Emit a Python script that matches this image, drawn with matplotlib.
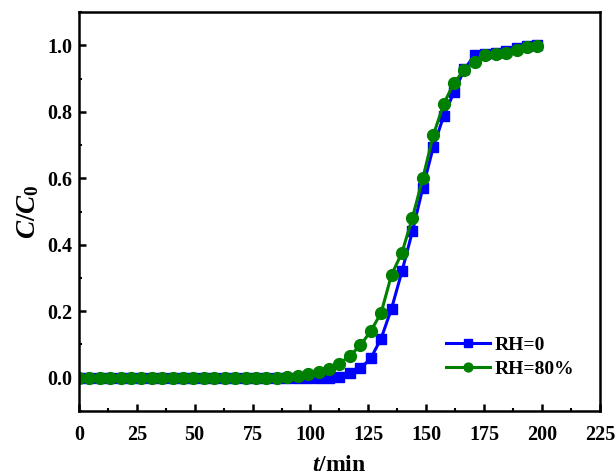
import matplotlib
matplotlib.use("Agg")
import matplotlib.pyplot as plt
from matplotlib.ticker import MultipleLocator

t_min = [0, 4.5, 9, 13.5, 18, 22.5, 27, 31.5, 36, 40.5, 45, 49.5, 54, 58.5, 63,
         67.5, 72, 76.5, 81, 85.5, 90, 94.5, 99, 103.5, 108, 112.5, 117, 121.5,
         126, 130.5, 135, 139.5, 144, 148.5, 153, 157.5, 162, 166.5, 171, 175.5,
         180, 184.5, 189, 193.5, 198]

rh0 = [0, 0, 0, 0, 0, 0, 0, 0, 0, 0, 0, 0, 0, 0, 0,
       0, 0, 0, 0, 0, 0, 0, 0, 0, 0.0, 0.003, 0.015, 0.028,
       0.058, 0.118, 0.208, 0.320, 0.440, 0.571, 0.693, 0.787, 0.860, 0.928, 0.972, 0.974,
       0.976, 0.982, 0.992, 0.997, 1.0]

rh80 = [0, 0, 0, 0, 0, 0, 0, 0, 0, 0, 0, 0, 0, 0, 0,
        0, 0, 0, 0, 0, 0.003, 0.006, 0.012, 0.016, 0.027, 0.042, 0.066, 0.097,
        0.140, 0.195, 0.310, 0.376, 0.481, 0.600, 0.729, 0.823, 0.888, 0.926, 0.951, 0.970,
        0.973, 0.976, 0.986, 0.996, 0.998]

labels = ["RH=0", "RH=80%"]

plt.rcParams['font.family'] = ['Liberation Serif', 'DejaVu Serif']
plt.rcParams['font.weight'] = 'bold'
plt.rcParams['mathtext.fontset'] = 'custom'
plt.rcParams['mathtext.rm'] = 'Liberation Serif:bold'
plt.rcParams['mathtext.bf'] = 'Liberation Serif:bold'
plt.rcParams['mathtext.it'] = 'Liberation Serif:italic:bold'

fig = plt.figure(figsize=(6.16, 4.76), dpi=100)
ax = fig.add_axes([0.128, 0.1366, 0.846, 0.838])

ax.plot(t_min, rh0, color='#0000FF', marker='s', markersize=7.5, linewidth=2.2,
        label=labels[0])
ax.plot(t_min, rh80, color='#008000', marker='o', markersize=8.5, linewidth=2.2,
        label=labels[1])

ax.set_xlim(0, 225)
ax.set_ylim(-0.1, 1.1)
ax.xaxis.set_major_locator(MultipleLocator(25))
ax.xaxis.set_minor_locator(MultipleLocator(12.5))
ax.yaxis.set_minor_locator(MultipleLocator(0.1))
ax.set_yticks([0.0, 0.2, 0.4, 0.6, 0.8, 1.0])
ax.set_yticklabels(['0.0', '0.2', '0.4', '0.6', '0.8', '1.0'])

ax.tick_params(which='major', direction='in', length=5, width=1.8, labelsize=14.5)
ax.tick_params(axis='x', which='major', pad=10)
ax.tick_params(axis='y', which='major', pad=5)
ax.tick_params(which='minor', direction='in', length=2.5, width=1.5)
ax.tick_params(top=False, right=False, which='both')
for lab in ax.get_xticklabels() + ax.get_yticklabels():
    lab.set_fontweight('bold')
for s in ax.spines.values():
    s.set_linewidth(1.8)

ax.set_xlabel(r'$\mathit{t}$/min', fontsize=17, fontweight='bold', labelpad=7)
ax.set_ylabel(r'$\mathit{C}$/$\mathit{C}_\mathrm{0}$', fontsize=19.5, fontweight='bold', labelpad=4)

leg = ax.legend(loc='lower left', bbox_to_anchor=(0.67, 0.04), frameon=False,
                handlelength=2.3, handletextpad=0.25, labelspacing=0.3,
                markerscale=0.75, prop={'weight': 'bold', 'size': 14})

fig.savefig('out.png', dpi=100)
